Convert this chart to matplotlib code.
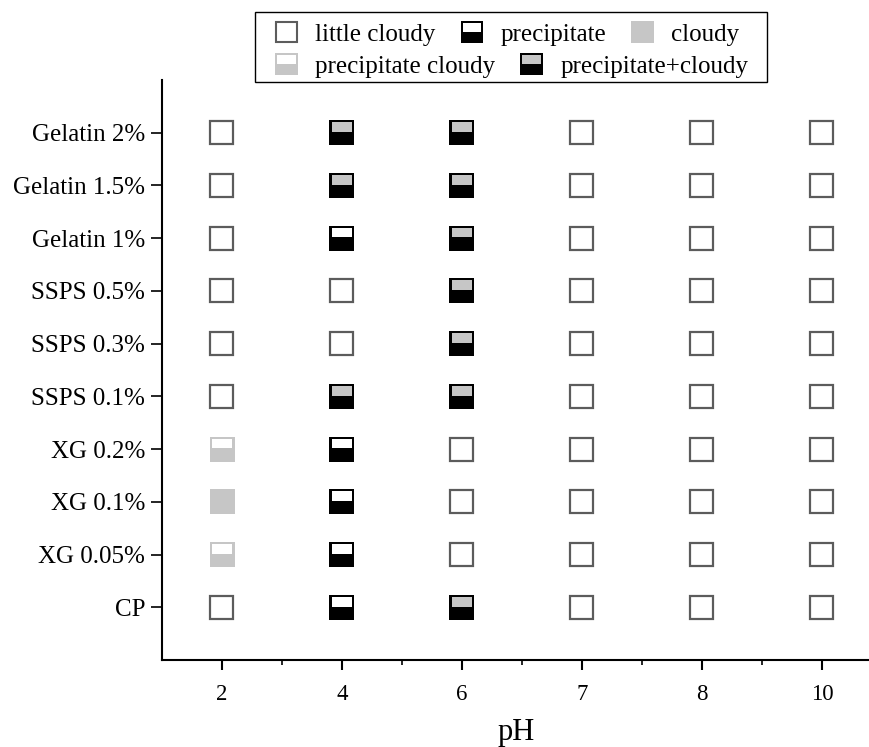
import matplotlib; matplotlib.use('agg')
import matplotlib.pyplot as plt
from matplotlib.patches import Rectangle, Patch
from matplotlib.legend_handler import HandlerBase

plt.rcParams['font.family'] = ['Liberation Serif', 'DejaVu Serif']

samples = ['CP', 'XG 0.05%', 'XG 0.1%', 'XG 0.2%', 'SSPS 0.1%', 'SSPS 0.3%',
           'SSPS 0.5%', 'Gelatin 1%', 'Gelatin 1.5%', 'Gelatin 2%']
ph = ['2', '4', '6', '7', '8', '10']

# L = little cloudy, P = precipitate, C = cloudy,
# PC = precipitate cloudy, PP = precipitate+cloudy
states = [
    ['L', 'P', 'PP', 'L', 'L', 'L'],    # CP
    ['PC', 'P', 'L', 'L', 'L', 'L'],    # XG 0.05%
    ['C', 'P', 'L', 'L', 'L', 'L'],     # XG 0.1%
    ['PC', 'P', 'L', 'L', 'L', 'L'],    # XG 0.2%
    ['L', 'PP', 'PP', 'L', 'L', 'L'],   # SSPS 0.1%
    ['L', 'L', 'PP', 'L', 'L', 'L'],    # SSPS 0.3%
    ['L', 'L', 'PP', 'L', 'L', 'L'],    # SSPS 0.5%
    ['L', 'P', 'PP', 'L', 'L', 'L'],    # Gelatin 1%
    ['L', 'PP', 'PP', 'L', 'L', 'L'],   # Gelatin 1.5%
    ['L', 'PP', 'PP', 'L', 'L', 'L'],   # Gelatin 2%
]

legend_rows = [
    [('L', 'little cloudy'), ('P', 'precipitate'), ('C', 'cloudy')],
    [('PC', 'precipitate cloudy'), ('PP', 'precipitate+cloudy')],
]

GRAY = '#c6c6c6'
EDGE = '#5c5c5c'
# body colour, top strip colour
styles = {
    'P': ('black', 'white'),
    'C': (GRAY, None),
    'PC': (GRAY, 'white'),
    'PP': ('black', GRAY),
}


def box(x0, y0, w, h, kind, lw, transform=None):
    """patches for one square symbol, lower-left corner (x0, y0)"""
    kw = {} if transform is None else {'transform': transform}
    if kind == 'L':
        return [Rectangle((x0 + w * 0.04, y0 + h * 0.04), w * 0.92, h * 0.92,
                          facecolor='white', edgecolor=EDGE, lw=lw, **kw)]
    body, top = styles[kind]
    out = [Rectangle((x0, y0), w, h, facecolor=body, edgecolor='none', **kw)]
    if top is not None:
        out.append(Rectangle((x0 + w * 0.09, y0 + h * 0.53), w * 0.82, h * 0.39,
                             facecolor=top, edgecolor='none', **kw))
    return out


class BoxHandler(HandlerBase):
    def create_artists(self, legend, orig_handle, xdescent, ydescent,
                       width, height, fontsize, trans):
        s = min(width, height)
        x0 = -xdescent + (width - s) / 2
        return box(x0, -ydescent, s, s, orig_handle.kind, 1.5, trans)


fig = plt.figure(figsize=(8.7, 7.47), dpi=100)
W, H = 870, 747
ax = fig.add_axes([162 / W, (H - 660) / H, 708 / W, 580 / H])
ax.set_xlim(0.5, 6.4)
ax.set_ylim(0, 11)

# square symbols, 25 px wide
px_x = 708 / 5.9
px_y = 580 / 11
sw = 25 / px_x
sh = 25 / px_y
for i, row in enumerate(states):
    for j, kind in enumerate(row):
        for p in box(j + 1 - sw / 2, i + 1 - sh / 2, sw, sh, kind, 1.6):
            ax.add_patch(p)

ax.set_xticks(range(1, len(ph) + 1))
ax.set_xticklabels(ph)
ax.set_xticks([1.5, 2.5, 3.5, 4.5, 5.5], minor=True)
ax.set_yticks(range(1, len(samples) + 1))
ax.set_yticklabels(samples)
for s in ['top', 'right']:
    ax.spines[s].set_visible(False)
for s in ['left', 'bottom']:
    ax.spines[s].set_linewidth(1.5)
ax.tick_params(axis='x', which='major', length=7.5, width=1.5, labelsize=16.5, pad=10)
ax.tick_params(axis='x', which='minor', length=3.5, width=1.2)
ax.tick_params(axis='y', length=8, width=1.2, labelsize=18, pad=4)
ax.set_xlabel('pH', fontsize=22, labelpad=9)

# legend: two free-flowing rows inside one frame
hmap = {Patch: BoxHandler()}
tops = [21, 53]
for row, top in zip(legend_rows, tops):
    handles = []
    for kind, lab in row:
        h = Patch(label=lab)
        h.kind = kind
        handles.append(h)
    fig.legend(handles=handles, handler_map=hmap, ncol=len(handles),
               loc='upper left', bbox_to_anchor=(274 / W, 1 - top / H),
               frameon=False, fontsize=18, handlelength=1.0, handleheight=1.0,
               handletextpad=0.64, columnspacing=0.96, borderpad=0,
               borderaxespad=0)
fig.add_artist(Rectangle((255 / W, 1 - 82 / H), 512 / W, 70 / H,
                         transform=fig.transFigure, facecolor='none',
                         edgecolor='black', lw=1.0))

plt.savefig('out.png', dpi=100)
